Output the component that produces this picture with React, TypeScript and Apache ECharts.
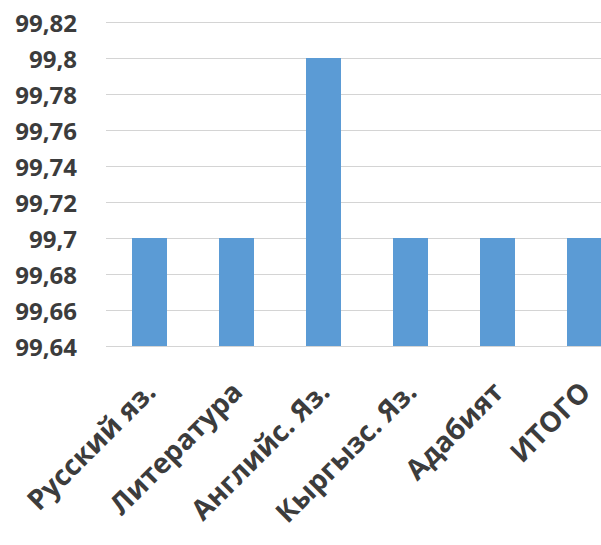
import React, { useEffect, useRef } from "react";
import * as echarts from "echarts";

const categories = ["Русский яз.", "Литература", "Английс. Яз.", "Кыргызс. Яз.", "Адабият", "ИТОГО"];
const values = [99.7, 99.7, 99.8, 99.7, 99.7, 99.7];
const yMin = 99.64;
const yMax = 99.82;
const yStep = 0.02;

export default function App() {
  const ref = useRef<HTMLDivElement>(null);
  useEffect(() => {
    if (!ref.current) return;
    const chart = echarts.init(ref.current, null, { renderer: "svg" });
    chart.setOption({
      animation: false,
      backgroundColor: "#ffffff",
      grid: { left: 106, right: 2, top: 22, bottom: 199 },
      xAxis: {
        type: "category",
        data: categories,
        axisLine: { show: false },
        axisTick: { show: false },
        axisLabel: {
          rotate: 45,
          interval: 0,
          margin: 40,
          fontFamily: "Open Sans",
          fontWeight: "bold",
          fontSize: 28,
          color: "#3c3c3c",
        },
      },
      yAxis: {
        type: "value",
        min: yMin,
        max: yMax,
        interval: yStep,
        axisLine: { show: false },
        axisTick: { show: false },
        splitLine: { lineStyle: { color: "#d4d4d4", width: 1 } },
        axisLabel: {
          margin: 29,
          fontFamily: "Open Sans",
          fontWeight: "bold",
          fontSize: 24,
          color: "#3c3c3c",
          formatter: (v: number) => parseFloat(v.toFixed(2)).toString().replace(".", ","),
        },
      },
      series: [
        {
          type: "bar",
          data: values,
          barWidth: 35,
          itemStyle: { color: "#5B9BD5" },
        },
      ],
    });
    return () => chart.dispose();
  }, []);
  return (
    <div style={{ position: "fixed", left: 0, top: 0, width: 601, height: 545, overflow: "hidden" }}>
      <div ref={ref} style={{ width: 630, height: 545 }} />
    </div>
  );
}
